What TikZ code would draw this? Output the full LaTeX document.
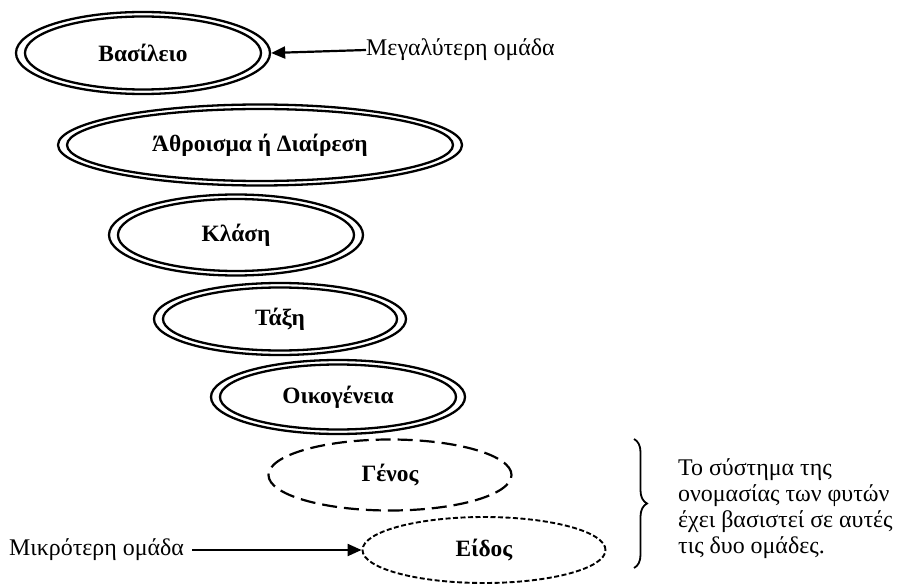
\documentclass[tikz,border=0pt]{standalone}
\usepackage{fontspec}
\setmainfont{Liberation Serif}
\usetikzlibrary{shapes.geometric,decorations.pathreplacing,arrows.meta}

\tikzset{
  taxon/.style={ellipse,draw,line width=2.3bp,
    inner sep=0pt,font=\fontsize{23.5}{26}\selectfont\bfseries},
  taxonin/.style={line width=2.3bp},
  genus/.style={ellipse,draw,line width=2.2bp,dash pattern=on 15bp off 7bp,
    inner sep=0pt,font=\fontsize{23.5}{26}\selectfont\bfseries},
  species/.style={ellipse,draw,line width=1.9bp,dash pattern=on 5bp off 2.5bp,
    inner sep=0pt,font=\fontsize{23.5}{26}\selectfont\bfseries},
  remark/.style={inner sep=0pt,font=\fontsize{24}{26}\selectfont},
  pointer/.style={line width=2.2bp,-{Triangle[length=14bp,width=12bp]}}
}
% #1 name, #2 centre, #3 width, #4 height, #5 rank
\newcommand\rankellipse[5]{%
  \node[taxon,minimum width=#3,minimum height=#4] (#1) at (#2) {#5};
  \draw[taxonin] (#1.center) ellipse ({#3/2-9bp} and {#4/2-4.5bp});
}

\begin{document}
\begin{tikzpicture}[x=1bp,y=-1bp]
\useasboundingbox (0,0) rectangle (909,587);
% the ranks, from the largest group down
\rankellipse{vasileio}{143,53}{254bp}{82bp}{Βασίλειο}
\rankellipse{athroisma}{260,145}{404bp}{81bp}{Άθροισμα ή Διαίρεση}
\rankellipse{klasi}{236,235}{254bp}{81bp}{Κλάση}
\rankellipse{taxi}{280,319}{252bp}{72bp}{Τάξη}
\rankellipse{oikogeneia}{338,397}{254bp}{74bp}{Οικογένεια}
\node[genus,minimum width=243bp,minimum height=71bp] (genos) at (390,475) {Γένος};
\node[species,minimum width=243bp,minimum height=66bp] (eidos) at (484,550) {Είδος};
% side notes
\node[remark,anchor=west] (megaliteri) at (366,50) {Μεγαλύτερη ομάδα};
\draw[pointer] (megaliteri.west) -- (vasileio.east);
\node[remark,anchor=west] (mikroteri) at (9,550) {Μικρότερη ομάδα};
\draw[pointer,shorten <=8bp] (mikroteri.east) -- (eidos.west);
\draw[line width=1.8bp,decorate,decoration={brace,amplitude=13bp}]
  (634,439) -- (634,568);
\node[remark,anchor=base west,align=left] (onomasia) at (678,553)
  {Το σύστημα της\\ονομασίας των φυτών\\έχει βασιστεί σε αυτές\\τις δυο ομάδες.};
\end{tikzpicture}
\end{document}
